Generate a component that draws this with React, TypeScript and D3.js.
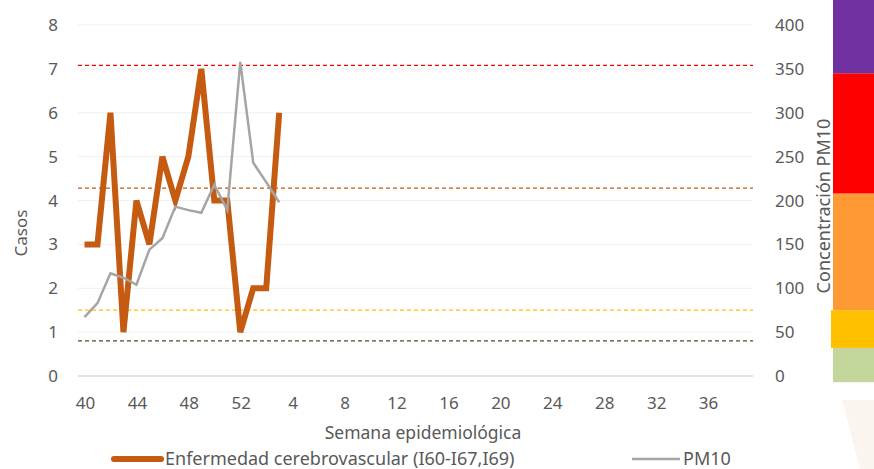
// App.tsx
// Casos de enfermedad cerebrovascular vs concentración PM10 por semana epidemiológica
import React from "react";
import * as d3 from "d3";

// semanas 40..52 y 1..39
const weeks: string[] = [
  ...d3.range(40, 53).map(String),
  ...d3.range(1, 40).map(String),
];
const tickWeeks = ["40", "44", "48", "52", "4", "8", "12", "16", "20", "24", "28", "32", "36"];

const casos = [3, 3, 6, 1, 4, 3, 5, 4, 5, 7, 4, 4, 1, 2, 2, 6];
const pm10 = [67, 83, 117, 112, 104, 144, 157, 193, 189, 186, 218, 189, 358, 243, 221, 198];

const leftTicks = [0, 1, 2, 3, 4, 5, 6, 7, 8];
const rightTicks = [0, 50, 100, 150, 200, 250, 300, 350, 400];

// umbrales PM10 (líneas punteadas)
const thresholds = [
  { v: 354, color: "#ff0000" },
  { v: 214, color: "#c55a11" },
  { v: 75, color: "#ffc000" },
  { v: 40, color: "#385723" },
];
// barra de colores a la derecha
const bands = [
  { lo: -7, hi: 32, color: "#c3d69b" },
  { lo: 32, hi: 75, color: "#ffc000" },
  { lo: 75, hi: 208, color: "#ff9933" },
  { lo: 208, hi: 345, color: "#ff0000" },
  { lo: 345, hi: 430, color: "#7030a0" },
];

const FONT = "'Noto Sans', sans-serif";
const TXT = "#595959";

export default function App() {
  const W = 874, H = 469;
  const x = d3.scaleBand<string>().domain(weeks).range([78, 753]);
  const cx = (w: string) => (x(w) as number) + x.bandwidth() / 2;
  const yL = d3.scaleLinear().domain([0, 8]).range([376, 25]);
  const yR = d3.scaleLinear().domain([0, 400]).range([376, 25]);

  const casosLine = d3.line<number>()
    .x((_, i) => cx(weeks[i]))
    .y((d) => yL(d));
  const pmLine = d3.line<number>()
    .x((_, i) => cx(weeks[i]))
    .y((d) => yR(d));

  return (
    <svg width={W} height={H} style={{ position: "absolute", left: 0, top: 0, background: "#fff" }}>
      {/* decoración de fondo */}
      <polygon points="842,400 874,400 874,469 860,469" fill="#faf5ee" />

      {/* líneas de cuadrícula */}
      {leftTicks.map((t) => (
        <line key={t} x1={78} x2={753} y1={yL(t)} y2={yL(t)}
          stroke={t === 0 ? "#d9d9d9" : "#f0f0f0"} strokeWidth={t === 0 ? 1.5 : 1} />
      ))}

      {/* umbrales */}
      {thresholds.map((d) => (
        <line key={d.v} x1={78} x2={753} y1={yR(d.v)} y2={yR(d.v)}
          stroke={d.color} strokeWidth={1.2} strokeDasharray="4,3" />
      ))}

      {/* series */}
      <path d={casosLine(casos) ?? ""} fill="none" stroke="#c55a11" strokeWidth={6} strokeLinejoin="miter" />
      <path d={pmLine(pm10) ?? ""} fill="none" stroke="#a5a5a5" strokeWidth={2.5} />

      {/* barra de colores */}
      {bands.map((b) => (
        <rect key={b.lo} x={b.color === "#ffc000" ? 831 : 833} width={45}
          y={yR(b.hi)} height={yR(b.lo) - yR(b.hi)} fill={b.color} />
      ))}

      <g fontFamily={FONT} fill={TXT} fontSize={17}>
        {/* eje izquierdo */}
        {leftTicks.map((t) => (
          <text key={t} x={58} y={yL(t)} dy="0.36em" textAnchor="end">{t}</text>
        ))}
        {/* eje derecho */}
        {rightTicks.map((t) => (
          <text key={t} x={775} y={yR(t)} dy="0.36em">{t}</text>
        ))}
        {/* eje x */}
        {tickWeeks.map((w) => (
          <text key={w} x={cx(w) + 1} y={403} dy="0.36em" textAnchor="middle">{w}</text>
        ))}
        <text x={423} y={433} dy="0.36em" textAnchor="middle" fontSize={17.5}>Semana epidemiológica</text>
        <text transform="translate(21,233) rotate(-90)" dy="0.36em" textAnchor="middle" fontSize={17}>Casos</text>
        <text transform="translate(824,206) rotate(-90)" dy="0.36em" textAnchor="middle" fontSize={18}>Concentración PM10</text>

        {/* leyenda */}
        <line x1={114} x2={161} y1={459} y2={459} stroke="#c55a11" strokeWidth={6} strokeLinecap="round" />
        <text x={165} y={465} fontSize={18}>Enfermedad cerebrovascular (I60-I67,I69)</text>
        <line x1={632} x2={680} y1={459} y2={459} stroke="#a5a5a5" strokeWidth={2.5} />
        <text x={683} y={465} fontSize={18}>PM10</text>
      </g>
    </svg>
  );
}
